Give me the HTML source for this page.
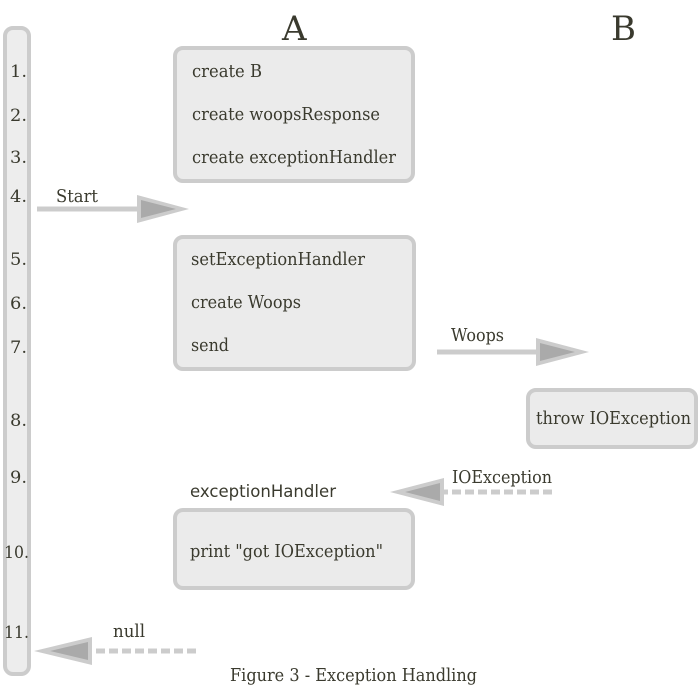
<!DOCTYPE html>
<html><head><meta charset="utf-8"><style>
html,body{margin:0;padding:0;background:#fff;}
svg{display:block;}
text{font-family:"DejaVu Serif","Liberation Serif",serif;fill:#3a3a2e;}
</style></head><body>
<svg width="700" height="700" viewBox="0 0 700 700" xmlns="http://www.w3.org/2000/svg" font-size="18">
<rect x="5" y="28" width="24" height="646" rx="8" fill="#ededed" stroke="#cccccc" stroke-width="4"/>
<g font-size="17">
<text x="10" y="77" textLength="17" lengthAdjust="spacingAndGlyphs">1.</text>
<text x="10" y="121" textLength="17" lengthAdjust="spacingAndGlyphs">2.</text>
<text x="10" y="163" textLength="17" lengthAdjust="spacingAndGlyphs">3.</text>
<text x="10" y="202" textLength="17" lengthAdjust="spacingAndGlyphs">4.</text>
<text x="10" y="265" textLength="17" lengthAdjust="spacingAndGlyphs">5.</text>
<text x="10" y="309" textLength="17" lengthAdjust="spacingAndGlyphs">6.</text>
<text x="10" y="353" textLength="17" lengthAdjust="spacingAndGlyphs">7.</text>
<text x="10" y="426" textLength="17" lengthAdjust="spacingAndGlyphs">8.</text>
<text x="10" y="483" textLength="17" lengthAdjust="spacingAndGlyphs">9.</text>
<text x="4" y="558" textLength="25" lengthAdjust="spacingAndGlyphs">10.</text>
<text x="4" y="638" textLength="25" lengthAdjust="spacingAndGlyphs">11.</text>
</g>
<text x="282" y="40" font-size="34">A</text>
<text x="611" y="40" font-size="34">B</text>

<g>
<rect x="175" y="48" width="238" height="133" rx="8" fill="#ebebeb" stroke="#cccccc" stroke-width="4"/>
<text x="192" y="77" textLength="70" lengthAdjust="spacingAndGlyphs">create B</text>
<text x="192" y="120" textLength="188" lengthAdjust="spacingAndGlyphs">create woopsResponse</text>
<text x="192" y="163" textLength="204" lengthAdjust="spacingAndGlyphs">create exceptionHandler</text>

<rect x="175" y="237" width="239" height="132" rx="8" fill="#ebebeb" stroke="#cccccc" stroke-width="4"/>
<text x="191" y="265" textLength="174" lengthAdjust="spacingAndGlyphs">setExceptionHandler</text>
<text x="191" y="308" textLength="110" lengthAdjust="spacingAndGlyphs">create Woops</text>
<text x="191" y="351" textLength="38" lengthAdjust="spacingAndGlyphs">send</text>

<rect x="528" y="390" width="168" height="57" rx="8" fill="#ebebeb" stroke="#cccccc" stroke-width="4"/>
<text x="536" y="424" textLength="155" lengthAdjust="spacingAndGlyphs">throw IOException</text>

<text x="190" y="497" style="font-family:'DejaVu Sans','Liberation Sans',sans-serif" font-size="17" textLength="146" lengthAdjust="spacingAndGlyphs">exceptionHandler</text>
<rect x="175" y="510" width="238" height="78" rx="8" fill="#ebebeb" stroke="#cccccc" stroke-width="4"/>
<text x="190" y="557" textLength="193" lengthAdjust="spacingAndGlyphs">print "got IOException"</text>
</g>

<text x="56" y="202" textLength="42" lengthAdjust="spacingAndGlyphs">Start</text>
<line x1="37" y1="209" x2="140" y2="209" stroke="#cccccc" stroke-width="5"/>
<polygon points="137,195 189,209 137,223" fill="#cccccc"/>
<polygon points="141,200 176,209 141,218" fill="#aaaaaa"/>

<text x="451" y="341" textLength="53" lengthAdjust="spacingAndGlyphs">Woops</text>
<line x1="437" y1="352" x2="540" y2="352" stroke="#cccccc" stroke-width="5"/>
<polygon points="536,338 589,352 536,366" fill="#cccccc"/>
<polygon points="540,343 575,352 540,361" fill="#aaaaaa"/>

<text x="452" y="483" textLength="100" lengthAdjust="spacingAndGlyphs">IOException</text>
<line x1="552" y1="492" x2="440" y2="492" stroke="#cccccc" stroke-width="5" stroke-dasharray="9,4"/>
<polygon points="444,478 390,492 444,506" fill="#cccccc"/>
<polygon points="440,483 405,492 440,501" fill="#aaaaaa"/>

<text x="113" y="637" textLength="32" lengthAdjust="spacingAndGlyphs">null</text>
<line x1="196" y1="651" x2="88" y2="651" stroke="#cccccc" stroke-width="5" stroke-dasharray="9,4"/>
<polygon points="92,637 34,651 92,665" fill="#cccccc"/>
<polygon points="88,642 50,651 88,660" fill="#aaaaaa"/>

<text x="230" y="681" textLength="247" lengthAdjust="spacingAndGlyphs">Figure 3 - Exception Handling</text>
</svg>
</body></html>
